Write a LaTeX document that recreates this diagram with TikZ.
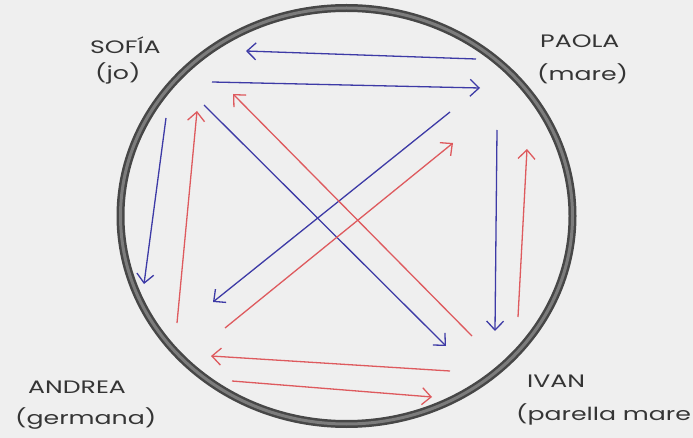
\documentclass[tikz,border=0pt]{standalone}
\usepackage{fontspec}
\newfontfamily\handfont[FakeStretch=1.4]{Poppins}
\usepackage{tikz}
\usetikzlibrary{arrows.meta}
\definecolor{penblue}{HTML}{3D3AA6}
\definecolor{penred}{HTML}{DE5A5E}
\definecolor{pencil}{HTML}{353535}
\definecolor{paper}{HTML}{EFEFEF}
\definecolor{rimdark}{HTML}{474747}
\definecolor{rimlight}{HTML}{7C7C7C}

\begin{document}
\begin{tikzpicture}[x=1pt,y=-1pt,
  who/.style={anchor=base west,inner sep=0pt,text=pencil,font=\handfont\fontsize{18}{20}\selectfont},
  bluearrow/.style={draw=penblue,line width=1.3pt,-{Straight Barb[length=9pt,width=17pt]}},
  redarrow/.style={draw=penred,line width=1.3pt,-{Straight Barb[length=9pt,width=17pt]}}]
  \useasboundingbox (0,0) rectangle (693,438);
  \fill[paper] (0,0) rectangle (693,438);
  % the family circle
  \draw[rimdark,line width=8pt] (346.5,216) ellipse [x radius=226,y radius=208];
  \draw[rimlight,line width=3pt] (346.5,216) ellipse [x radius=226,y radius=208];
  % people
  \node[who] (sofia) at (90,54) {SOFÍA};
  \node[who] (jo) at (95,80) {(jo)};
  \node[who] (paola) at (540,48) {PAOLA};
  \node[who] (mare) at (537,81) {(mare)};
  \node[who] (andrea) at (28,393) {ANDREA};
  \node[who] (germana) at (15,424) {(germana)};
  \node[who] (ivan) at (527,387) {IVAN};
  \node[who] (parella) at (516,420) {(parella mare};
  % arrow ends
  \coordinate (sp1) at (212,82);  \coordinate (sp2) at (480,88);
  \coordinate (ps1) at (476,59);  \coordinate (ps2) at (246,51);
  \coordinate (sa1) at (166,118); \coordinate (sa2) at (144,284);
  \coordinate (as1) at (177,323); \coordinate (as2) at (197,111);
  \coordinate (si1) at (204,105); \coordinate (si2) at (446,346);
  \coordinate (is1) at (472,336); \coordinate (is2) at (233,94);
  \coordinate (pa1) at (450,112); \coordinate (pa2) at (213,302);
  \coordinate (ap1) at (225,328); \coordinate (ap2) at (453,143);
  \coordinate (pi1) at (497,130); \coordinate (pi2) at (495,331);
  \coordinate (ip1) at (518,317); \coordinate (ip2) at (527,149);
  \coordinate (ia1) at (450,371); \coordinate (ia2) at (211,356);
  \coordinate (ai1) at (232,381); \coordinate (ai2) at (432,397);
  % blue
  \draw[bluearrow] (sp1) -- (sp2);
  \draw[bluearrow] (ps1) -- (ps2);
  \draw[bluearrow] (sa1) -- (sa2);
  \draw[bluearrow] (si1) -- (si2);
  \draw[bluearrow] (pa1) -- (pa2);
  \draw[bluearrow] (pi1) -- (pi2);
  % red
  \draw[redarrow] (as1) -- (as2);
  \draw[redarrow] (is1) -- (is2);
  \draw[redarrow] (ap1) -- (ap2);
  \draw[redarrow] (ip1) -- (ip2);
  \draw[redarrow] (ia1) -- (ia2);
  \draw[redarrow] (ai1) -- (ai2);
\end{tikzpicture}
\end{document}
